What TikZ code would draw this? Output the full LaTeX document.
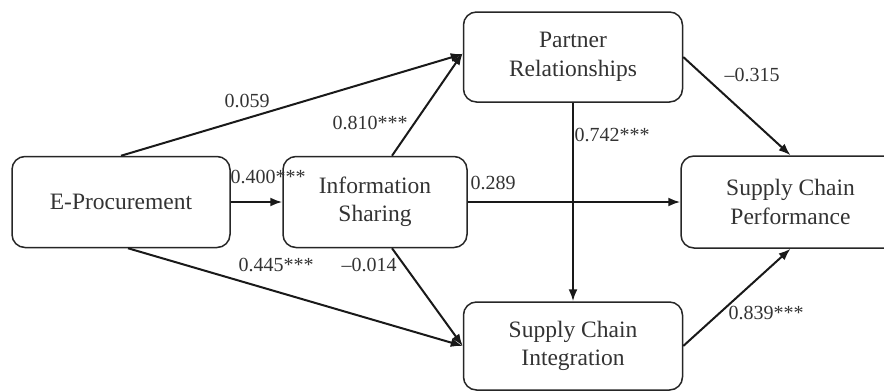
\documentclass[tikz,border=0pt]{standalone}
\usepackage{fontspec}
\setmainfont{Liberation Serif}
\usetikzlibrary{arrows.meta}
\begin{document}
\begin{tikzpicture}[x=1pt,y=-1pt,
  box/.style={draw=black!85, line width=1.5pt, rounded corners=13pt, fill=white,
    align=center, inner sep=0pt, text=black!80,
    font=\fontsize{23.5}{28.5}\selectfont},
  arr/.style={draw=black!90, line width=2pt, -{Latex[length=12pt,width=9pt]}},
  lab/.style={text=black!80, inner sep=0pt, font=\fontsize{20}{24}\selectfont}]
\useasboundingbox (0,0) rectangle (884,391);
\node[box, minimum width=218pt, minimum height=91pt] (e) at (121,202) {E-Procurement};
\node[box, minimum width=184pt, minimum height=91pt] (info) at (375,202) {Information\\Sharing};
\node[box, minimum width=219pt, minimum height=90pt] (pr) at (573,57) {Partner\\Relationships};
\node[box, minimum width=219pt, minimum height=92pt] (scp) at (790.5,202) {Supply Chain\\Performance};
\node[box, minimum width=219pt, minimum height=88pt] (sci) at (573,346) {Supply Chain\\Integration};

\draw[arr] (e) -- (info);
\draw[arr] (e.north) -- ([yshift=3pt]pr.west);
\draw[arr] ([xshift=17pt]info.north) -- ([yshift=4pt]pr.west);
\draw[arr] ([xshift=7pt]e.south) -- (sci.west);
\draw[arr] ([xshift=17pt]info.south) -- (sci.west);
\draw[arr] (info) -- (scp);
\draw[arr] (pr) -- (sci);
\draw[arr] (pr.east) -- (scp.north);
\draw[arr] (sci.east) -- (scp.south);

\node[lab] (l1) at (247,101) {0.059};
\node[lab] (l2) at (370,123) {0.810***};
\node[lab] (l3) at (268,177) {0.400***};
\node[lab] (l4) at (276,265) {0.445***};
\node[lab] (l5) at (369,265) {–0.014};
\node[lab] (l6) at (612,135) {0.742***};
\node[lab] (l7) at (493,183) {0.289};
\node[lab] (l8) at (752,75) {–0.315};
\node[lab] (l9) at (766,313) {0.839***};
\end{tikzpicture}
\end{document}
